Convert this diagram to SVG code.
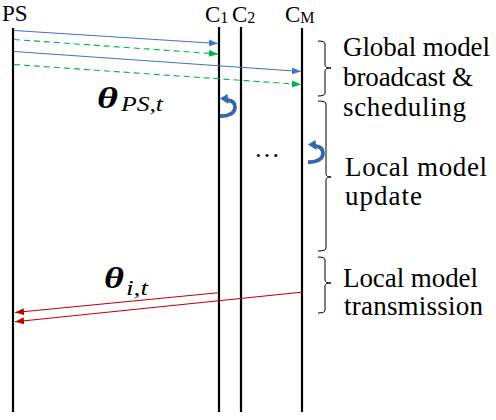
<svg xmlns="http://www.w3.org/2000/svg" width="496" height="420" viewBox="0 0 496 420">
<style>
.t{font-family:"Liberation Serif","Times New Roman",serif;fill:#000}
.lbl{font-size:27px}
.life{stroke:#000;stroke-width:2.2;fill:none}
.brace{stroke:#000;stroke-width:1;fill:none}
.blue{stroke:#4472C4;stroke-width:1.1;fill:none}
.green{stroke:#00B050;stroke-width:1.1;fill:none;stroke-dasharray:6 4}
.red{stroke:#C00000;stroke-width:1.1;fill:none}
.th{font-size:29px;font-weight:bold;font-style:italic}
.sub{font-size:22px;font-style:italic}
.cl{font-size:23px}
.cs{font-size:16px}
</style>
<defs>
<marker id="ab" markerUnits="userSpaceOnUse" markerWidth="10" markerHeight="8" refX="9" refY="3.5" orient="auto"><path d="M0,0 L9,3.5 L0,7 z" fill="#4472C4"/></marker>
<marker id="ag" markerUnits="userSpaceOnUse" markerWidth="10" markerHeight="8" refX="9" refY="3.5" orient="auto"><path d="M0,0 L9,3.5 L0,7 z" fill="#00B050"/></marker>
<marker id="ar" markerUnits="userSpaceOnUse" markerWidth="10" markerHeight="8" refX="9" refY="3.5" orient="auto"><path d="M0,0 L9,3.5 L0,7 z" fill="#C00000"/></marker>
<g id="loop">
<path d="M0,19 C9,19.5 15,16 15,10 C15,6 12,3.5 7,3" stroke="#3565B0" stroke-width="3.8" fill="none"/>
<path d="M0,1.5 L7.5,-3 L8.5,7 z" fill="#3565B0"/>
</g>
</defs>
<g id="node-PS">
<text class="t" x="2" y="21" font-size="23">PS</text>
<line class="life" x1="13" y1="28" x2="13" y2="412"/>
</g>
<g id="node-C1">
<text class="t cl" x="205" y="22">C<tspan class="cs" dy="1">1</tspan></text>
<line class="life" x1="219" y1="27" x2="219" y2="412"/>
</g>
<g id="node-C2">
<text class="t cl" x="232" y="22">C<tspan class="cs" dy="1">2</tspan></text>
<line class="life" x1="241" y1="27" x2="241" y2="412"/>
</g>
<g id="node-CM">
<text class="t cl" x="285" y="22">C<tspan class="cs" dy="1">M</tspan></text>
<line class="life" x1="302" y1="28" x2="302" y2="412"/>
</g>
<g id="connectors">
<line class="blue" x1="14" y1="30.5" x2="218" y2="43.5" marker-end="url(#ab)"/>
<line class="green" x1="14" y1="39.5" x2="218" y2="54" marker-end="url(#ag)"/>
<line class="blue" x1="14" y1="51.5" x2="301" y2="71.5" marker-end="url(#ab)"/>
<line class="green" x1="14" y1="64.5" x2="301" y2="84.5" marker-end="url(#ag)"/>
<line class="red" x1="218" y1="292.7" x2="15" y2="312.5" marker-end="url(#ar)"/>
<line class="red" x1="301" y1="292.3" x2="15" y2="321.7" marker-end="url(#ar)"/>
</g>
<g id="node-loops">
<use href="#loop" x="220" y="97"/>
<use href="#loop" x="308" y="143"/>
<text class="t" x="254" y="157" font-size="26">…</text>
</g>
<g id="node-theta-ps">
<text class="t th" x="97" y="108" textLength="21" lengthAdjust="spacingAndGlyphs">θ</text>
<text class="t sub" x="121" y="111" textLength="42" lengthAdjust="spacingAndGlyphs">PS,t</text>
</g>
<g id="node-theta-i">
<text class="t th" x="104" y="288" textLength="20" lengthAdjust="spacingAndGlyphs">θ</text>
<text class="t sub" x="126" y="295" textLength="22" lengthAdjust="spacingAndGlyphs">i,t</text>
</g>
<g id="node-brace1">
<path class="brace" d="M318,41 Q325,41 325,44 V65 Q325,68 331,68 Q325,68 325,71 V93 Q325,96 318,96"/>
<text class="t lbl" x="343" y="56" textLength="147">Global model</text>
<text class="t lbl" x="343" y="86" textLength="130">broadcast &amp;</text>
<text class="t lbl" x="343" y="116" textLength="123">scheduling</text>
</g>
<g id="node-brace2">
<path class="brace" d="M318,101 Q326,101 326,104 V174 Q326,177 331,177 Q326,177 326,180 V248 Q326,251 318,251"/>
<text class="t lbl" x="345" y="176" textLength="142">Local model</text>
<text class="t lbl" x="345" y="205" textLength="77">update</text>
</g>
<g id="node-brace3">
<path class="brace" d="M318,257 Q325,257 325,260 V280 Q325,283 331,283 Q325,283 325,286 V310 Q325,313 318,313"/>
<text class="t lbl" x="343" y="287" textLength="135">Local model</text>
<text class="t lbl" x="344" y="315" textLength="139">transmission</text>
</g>
</svg>
